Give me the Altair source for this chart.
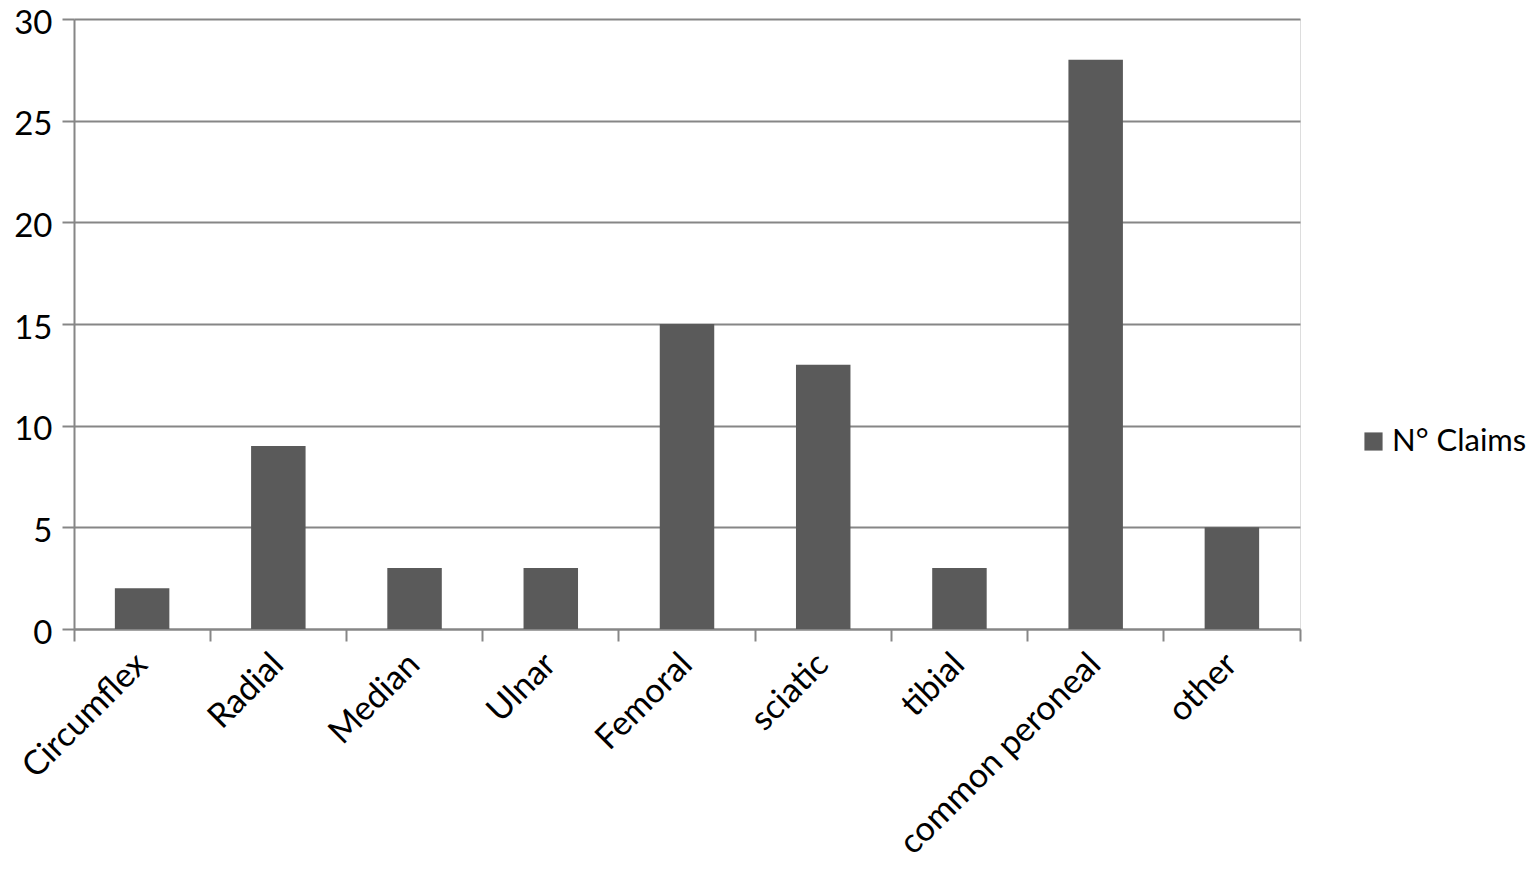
import altair as alt
import pandas as pd

categories = ["Circumflex", "Radial", "Median", "Ulnar", "Femoral", "sciatic", "tibial", "common peroneal", "other"]
claims = [2, 9, 3, 3, 15, 13, 3, 28, 5]
series_name = "N° Claims"
y_ticks = [0, 5, 10, 15, 20, 25, 30]

df = pd.DataFrame({"nerve": categories, "claims": claims, "series": [series_name] * len(categories)})

W, H = 1226, 610
FONT = "Lato"

chart = (
    alt.Chart(df)
    .mark_bar(width=alt.RelativeBandSize(0.4), color="#5a5a5a")
    .encode(
        x=alt.X(
            "nerve:N",
            sort=categories,
            scale=alt.Scale(paddingInner=0, paddingOuter=0),
            axis=alt.Axis(
                title=None,
                labelAngle=-45,
                labelAlign="right",
                labelBaseline="middle",
                labelFont=FONT,
                labelFontSize=34,
                labelColor="#000000",
                labelPadding=18,
                labelLimit=500,
                bandPosition=1,
                tickExtra=True,
                tickSize=12,
                tickWidth=2,
                tickColor="#868686",
                domainColor="#868686",
                domainWidth=2,
                grid=False,
            ),
        ),
        y=alt.Y(
            "claims:Q",
            scale=alt.Scale(domain=[0, 30], nice=False),
            axis=alt.Axis(
                title=None,
                values=y_ticks,
                labelFont=FONT,
                labelFontSize=33,
                labelColor="#000000",
                labelPadding=10,
                labelOffset=4,
                tickSize=12,
                tickWidth=2,
                tickColor="#868686",
                domainColor="#868686",
                domainWidth=2,
                grid=True,
                gridColor="#868686",
                gridWidth=2,
            ),
        ),
        color=alt.Color(
            "series:N",
            scale=alt.Scale(range=["#5a5a5a"]),
            legend=alt.Legend(
                title=None,
                orient="none",
                legendX=1284,
                legendY=407,
                symbolType="square",
                symbolSize=330,
                symbolStrokeWidth=0,
                labelFont=FONT,
                labelFontSize=31,
                labelColor="#000000",
                labelOffset=3,
                labelLimit=300,
            ),
        ),
    )
    .properties(
        width=W,
        height=H,
        autosize=alt.AutoSizeParams(type="none"),
        padding={"left": 66, "top": 11, "right": 228, "bottom": 238},
    )
    .configure_view(stroke=None)
    .configure(background="white")
)

chart.save("out.html", embed_options={"renderer": "svg", "actions": False})
